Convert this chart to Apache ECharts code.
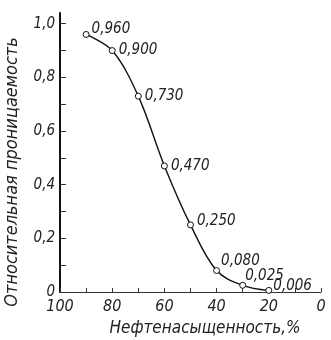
<!DOCTYPE html>
<html>
<head>
<meta charset="utf-8">
<script src="https://cdn.jsdelivr.net/npm/echarts@6/dist/echarts.min.js"></script>
<style>html,body{margin:0;padding:0;background:#fff}#c{width:331px;height:340px}</style>
</head>
<body>
<div id="c"></div>
<script>
// Data
var saturation = [90, 80, 70, 60, 50, 40, 30, 20];
var permeability = [0.960, 0.900, 0.730, 0.470, 0.250, 0.080, 0.025, 0.006];
var pointLabels = ['0,960', '0,900', '0,730', '0,470', '0,250', '0,080', '0,025', '0,006'];
var xTicks = [100, 80, 60, 40, 20, 0];
var yTicks = [0, 0.2, 0.4, 0.6, 0.8, 1.0];
var yTickLabels = ['0', '0,2', '0,4', '0,6', '0,8', '1,0'];
var yTitle = 'Относительная проницаемость';
var xTitle = 'Нефтенасыщенность,%';

// Layout (label offsets per point)
var labelOffsets = [[-1,-5],[0,0],[0,0],[0,0],[0,-4],[-2,-9],[-4,-9],[-2,-4]];

var font = '"DejaVu Sans Condensed", "DejaVu Sans", sans-serif';
var chart = echarts.init(document.getElementById('c'), null, {renderer: 'canvas'});
var data = saturation.map(function (s, i) {
  return {
    value: [s, permeability[i]],
    label: {offset: labelOffsets[i]}
  };
});
chart.setOption({
  animation: false,
  backgroundColor: '#fff',
  grid: {left: 60, right: 10, top: 13, bottom: 48, containLabel: false},
  xAxis: {
    type: 'value', inverse: true, min: 0, max: 100, interval: 10,
    axisLine: {show: true, onZero: false, lineStyle: {color: '#333', width: 1}},
    axisTick: {show: true, inside: true, length: 4, lineStyle: {color: '#333'}},
    axisLabel: {
      customValues: xTicks,
      fontFamily: font, fontStyle: 'italic', fontSize: 16, color: '#222', margin: 7
    },
    splitLine: {show: false}
  },
  yAxis: {
    type: 'value', min: 0, max: 1.04, position: 'left',
    axisLine: {show: true, onZero: false, lineStyle: {color: '#111', width: 2}},
    axisTick: {show: true, inside: true, length: 6, lineStyle: {color: '#333'},
      customValues: [0, 0.1, 0.2, 0.3, 0.4, 0.5, 0.6, 0.7, 0.8, 0.9, 1.0]},
    axisLabel: {
      customValues: yTicks,
      formatter: function (v) { var i = yTicks.indexOf(+v.toFixed(2)); return i >= 0 ? yTickLabels[i] : ''; },
      fontFamily: font, fontStyle: 'italic', fontSize: 15, color: '#222', margin: 5
    },
    splitLine: {show: false}
  },
  graphic: [
    {type: 'text', x: 12, y: 172, rotation: Math.PI / 2,
     style: {text: yTitle, fontFamily: font, fontStyle: 'italic', fontSize: 18, fill: '#222',
       textAlign: 'center', textVerticalAlign: 'middle'}},
    {type: 'text', x: 205, y: 329,
     style: {text: xTitle, fontFamily: font, fontStyle: 'italic', fontSize: 17, fill: '#222',
       textAlign: 'center', textVerticalAlign: 'middle'}}
  ],
  series: [{
    type: 'line',
    data: data,
    smooth: 0.35,
    symbol: 'circle',
    symbolSize: 6,
    lineStyle: {color: '#111', width: 1.4},
    itemStyle: {color: '#fff', borderColor: '#111', borderWidth: 1},
    label: {
      show: true, position: 'right', distance: 3,
      formatter: function (p) { return pointLabels[p.dataIndex]; },
      fontFamily: font, fontStyle: 'italic', fontSize: 15, color: '#222'
    },
    z: 5
  }]
});
</script>
</body>
</html>
